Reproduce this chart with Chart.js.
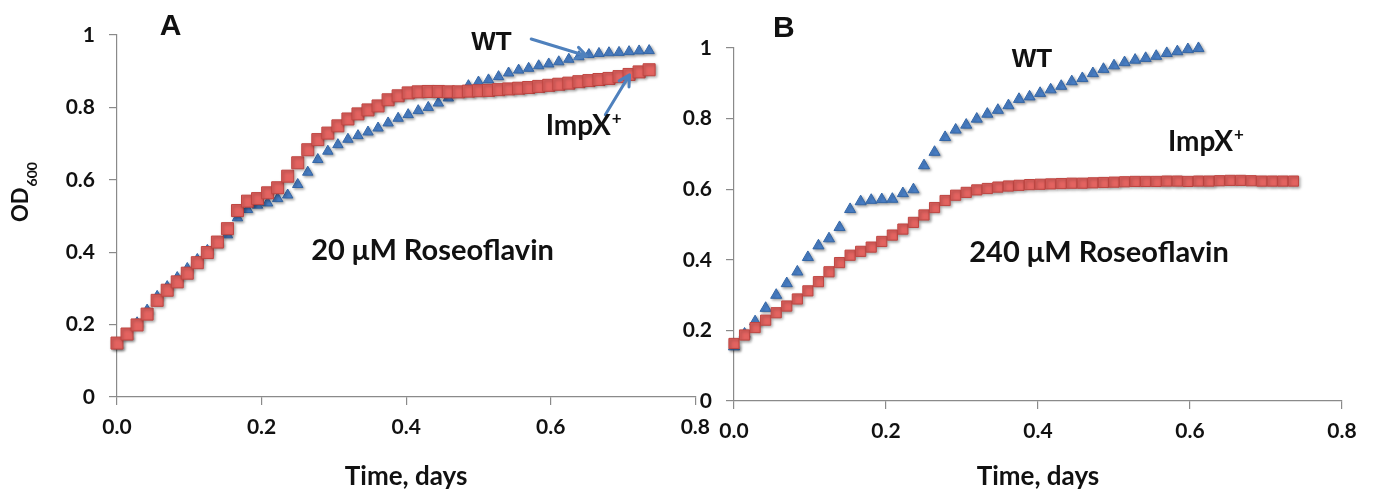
<!DOCTYPE html>
<html>
<head>
<meta charset="utf-8">
<title>Growth with roseoflavin</title>
<script src="https://cdn.jsdelivr.net/npm/chart.js@4.4.1/dist/chart.umd.min.js"></script>
<style>
  html, body { margin: 0; padding: 0; background: #fff; }
  #wrap { position: relative; width: 1374px; height: 493px; overflow: hidden; background: #fff; }
  #wrap canvas { position: absolute; top: 0; }
  #panelA { left: 0; }
  #panelB { left: 660px; }
</style>
</head>
<body>
<div id="wrap">
  <canvas id="panelA" width="720" height="493"></canvas>
  <canvas id="panelB" width="714" height="493"></canvas>
</div>
<script>
// ========== DATA ==========
// readings every 20 min, time axis in days
var sampleMinutes = 20;

// panel A, 20 uM roseoflavin
var wtA = [0.142, 0.170, 0.205, 0.240, 0.278, 0.305, 0.330, 0.355, 0.380, 0.405,
           0.428, 0.448, 0.495, 0.518, 0.530, 0.536, 0.548, 0.558, 0.587, 0.621,
           0.656, 0.679, 0.697, 0.712, 0.722, 0.732, 0.743, 0.757, 0.770, 0.780,
           0.791, 0.800, 0.812, 0.826, 0.842, 0.860, 0.870, 0.876, 0.885, 0.895,
           0.903, 0.908, 0.915, 0.920, 0.926, 0.933, 0.940, 0.946, 0.949, 0.951,
           0.952, 0.954, 0.956, 0.957];
var impxA = [0.149, 0.174, 0.199, 0.229, 0.267, 0.295, 0.318, 0.342, 0.371, 0.399,
             0.428, 0.465, 0.515, 0.541, 0.548, 0.564, 0.578, 0.610, 0.647, 0.683,
             0.711, 0.729, 0.749, 0.768, 0.782, 0.793, 0.804, 0.821, 0.832, 0.840,
             0.843, 0.844, 0.844, 0.843, 0.843, 0.845, 0.846, 0.847, 0.849, 0.851,
             0.853, 0.855, 0.858, 0.861, 0.864, 0.867, 0.871, 0.874, 0.877, 0.880,
             0.885, 0.891, 0.898, 0.904];

// panel B, 240 uM roseoflavin
var wtB = [0.154, 0.190, 0.225, 0.263, 0.300, 0.333, 0.366, 0.407, 0.440, 0.460,
           0.492, 0.543, 0.565, 0.569, 0.571, 0.572, 0.588, 0.599, 0.667, 0.705,
           0.747, 0.768, 0.782, 0.799, 0.813, 0.824, 0.837, 0.855, 0.862, 0.872,
           0.882, 0.892, 0.905, 0.914, 0.928, 0.940, 0.950, 0.959, 0.966, 0.971,
           0.977, 0.985, 0.990, 0.996, 0.999];
var impxB = [0.163, 0.187, 0.208, 0.229, 0.250, 0.269, 0.289, 0.312, 0.338, 0.366,
             0.392, 0.413, 0.424, 0.436, 0.452, 0.470, 0.487, 0.506, 0.527, 0.548,
             0.568, 0.583, 0.591, 0.598, 0.602, 0.606, 0.609, 0.611, 0.613, 0.614,
             0.615, 0.616, 0.617, 0.617, 0.618, 0.619, 0.620, 0.621, 0.622, 0.622,
             0.622, 0.623, 0.623, 0.622, 0.623, 0.623, 0.624, 0.625, 0.625, 0.624,
             0.623, 0.623, 0.623, 0.623];

var xMax = 0.8;
var yMax = 1;
var tickStep = 0.2;

// ========== STYLE ==========
var textColor = "#111111";
var axisColor = "#8a8a8a";
var arrowColor = "#4f81bd";
var redFill = "#e36360", redEdge = "#bf4541";
var blueFill = "#4a80c8", blueEdge = "#3466a6";

function toPoints(values) {
  return values.map(function (v, i) {
    return { x: i * sampleMinutes / 1440, y: v };
  });
}

// ========== PLUGINS ==========
var markerShadow = {
  id: "markerShadow",
  beforeDatasetsDraw: function (chart) {
    var ctx = chart.ctx;
    ctx.save();
    ctx.shadowColor = "rgba(0,0,0,0.35)";
    ctx.shadowBlur = 3;
    ctx.shadowOffsetX = 1.5;
    ctx.shadowOffsetY = 1.5;
  },
  afterDatasetsDraw: function (chart) {
    chart.ctx.restore();
  }
};

function drawArrow(ctx, x1, y1, x2, y2) {
  var ang = Math.atan2(y2 - y1, x2 - x1);
  var len = 12, spread = 0.5;
  ctx.beginPath();
  ctx.moveTo(x1, y1);
  ctx.lineTo(x2, y2);
  ctx.moveTo(x2 - len * Math.cos(ang - spread), y2 - len * Math.sin(ang - spread));
  ctx.lineTo(x2, y2);
  ctx.lineTo(x2 - len * Math.cos(ang + spread), y2 - len * Math.sin(ang + spread));
  ctx.stroke();
}

function notesPlugin(notes, arrows, drawYTitle) {
  return {
    id: "notes",
    afterDraw: function (chart) {
      var ctx = chart.ctx;
      var xs = chart.scales.x, ys = chart.scales.y;
      ctx.save();

      ctx.strokeStyle = arrowColor;
      ctx.lineWidth = 3;
      ctx.lineCap = "round";
      ctx.lineJoin = "round";
      arrows.forEach(function (a) {
        drawArrow(ctx,
          xs.getPixelForValue(a.from[0]), ys.getPixelForValue(a.from[1]),
          xs.getPixelForValue(a.to[0]), ys.getPixelForValue(a.to[1]));
      });

      ctx.fillStyle = textColor;
      ctx.textAlign = "left";
      ctx.textBaseline = "alphabetic";
      notes.forEach(function (n) {
        var px = xs.getPixelForValue(n.x), py = ys.getPixelForValue(n.y);
        ctx.font = n.font;
        ctx.fillText(n.text, px, py);
        if (n.sup) {
          var w = ctx.measureText(n.text).width;
          ctx.font = "bold 17px Lato";
          ctx.fillText(n.sup, px + w + 1, py - 11);
        }
      });

      if (drawYTitle) {
        // OD with subscript 600, rotated
        ctx.translate(28, 222);
        ctx.rotate(-Math.PI / 2);
        ctx.font = "bold 22px Lato";
        ctx.fillText("OD", 0, 0);
        var odw = ctx.measureText("OD").width;
        ctx.font = "bold 14px Lato";
        ctx.fillText("600", odw + 1, 9);
      }
      ctx.restore();
    }
  };
}

// ========== SHARED AXES ==========
function axes(yWidth, xHeight) {
  var tickFont = { family: "Lato", size: 21, weight: "bold" };
  var gridOpts = { drawOnChartArea: false, drawTicks: true, tickLength: 8, color: axisColor, lineWidth: 1.2 };
  return {
    x: {
      type: "linear",
      min: 0,
      max: xMax,
      afterFit: function (s) { s.height = xHeight; },
      ticks: {
        stepSize: tickStep,
        padding: 10,
        maxRotation: 0,
        autoSkip: false,
        color: textColor,
        font: tickFont,
        callback: function (v) { return v.toFixed(1); }
      },
      grid: gridOpts,
      border: { display: true, color: axisColor, width: 1.2 },
      title: {
        display: true,
        text: "Time, days",
        color: textColor,
        font: { family: "Lato", size: 26, weight: "bold" },
        padding: { top: 0, bottom: 1 }
      }
    },
    y: {
      type: "linear",
      min: 0,
      max: yMax,
      afterFit: function (s) { s.width = yWidth; },
      ticks: {
        stepSize: tickStep,
        padding: 14,
        color: textColor,
        font: tickFont,
        callback: function (v) { return String(Math.round(v * 10) / 10); }
      },
      grid: gridOpts,
      border: { display: true, color: axisColor, width: 1.2 }
    }
  };
}

function datasets(wt, impx, squareR, triR) {
  return [
    {
      label: "ImpX+",
      data: toPoints(impx),
      pointStyle: "rect",
      pointRadius: squareR,
      backgroundColor: redFill,
      borderColor: redEdge,
      borderWidth: 1,
      showLine: false,
      clip: false
    },
    {
      label: "WT",
      data: toPoints(wt),
      pointStyle: "triangle",
      pointRadius: triR,
      backgroundColor: blueFill,
      borderColor: blueEdge,
      borderWidth: 1,
      showLine: false,
      clip: false
    }
  ];
}

function baseOptions(pad, yWidth, xHeight) {
  return {
    responsive: false,
    animation: false,
    layout: { padding: pad },
    plugins: {
      legend: { display: false },
      tooltip: { enabled: false }
    },
    scales: axes(yWidth, xHeight)
  };
}

function drawPanels() {
  // ========== PANEL A ==========
  var notesA = [
    { text: "A", x: 0.059, y: 1.0, font: "bold 30px 'Liberation Sans'" },
    { text: "WT", x: 0.490, y: 0.9587, font: "bold 26px 'Liberation Sans'" },
    { text: "ImpX", sup: "+", x: 0.593, y: 0.7245, font: "bold 28px Lato" },
    { text: "20 \u03bcM Roseoflavin", x: 0.2686, y: 0.378, font: "bold 29px Lato" }
  ];
  var arrowsA = [
    { from: [0.573, 0.989], to: [0.650, 0.942] },
    { from: [0.6755, 0.7796], to: [0.709, 0.8898] }
  ];
  new Chart(document.getElementById("panelA"), {
    type: "scatter",
    data: { datasets: datasets(wtA, impxA, 8.5, 6) },
    options: baseOptions({ left: 0, right: 23, top: 35, bottom: 0 }, 117, 96),
    plugins: [markerShadow, notesPlugin(notesA, arrowsA, true)]
  });

  // ========== PANEL B ==========
  var notesB = [
    { text: "B", x: 0.0513, y: 1.031, font: "bold 30px 'Liberation Sans'" },
    { text: "WT", x: 0.3654, y: 0.947, font: "bold 26px 'Liberation Sans'" },
    { text: "ImpX", sup: "+", x: 0.571, y: 0.708, font: "bold 28px Lato" },
    { text: "240 \u03bcM Roseoflavin", x: 0.3096, y: 0.3946, font: "bold 29px Lato" }
  ];
  new Chart(document.getElementById("panelB"), {
    type: "scatter",
    data: { datasets: datasets(wtB, impxB, 7.2, 6.4) },
    options: baseOptions({ left: 0, right: 32, top: 48, bottom: 0 }, 74, 92),
    plugins: [markerShadow, notesPlugin(notesB, [], false)]
  });
}

document.addEventListener("DOMContentLoaded", function () {
  Promise.all([
    document.fonts.load("bold 20px Lato"),
    document.fonts.load("bold 26px 'Liberation Sans'")
  ]).then(drawPanels, drawPanels);
});
</script>
</body>
</html>
